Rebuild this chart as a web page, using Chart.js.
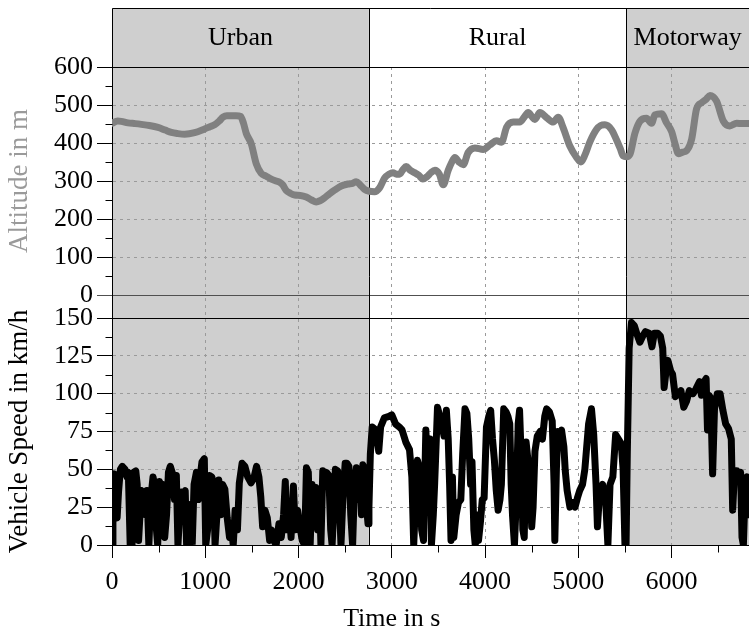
<!DOCTYPE html>
<html>
<head>
<meta charset="utf-8">
<script src="https://cdn.jsdelivr.net/npm/chart.js@4.4.1/dist/chart.umd.min.js"></script>
<style>
  html, body { margin: 0; padding: 0; background: #ffffff; }
  #wrap { width: 749px; height: 630px; }
</style>
</head>
<body>
<div id="wrap"><canvas id="drive" width="749" height="630"></canvas></div>
<script>
// Driving cycle: route sections along the time axis
const sectionNames  = ['Urban', 'Rural', 'Motorway'];
const sectionBounds = [0, 2755, 5515, 6830];   // s

// Tick labels
const timeTicks  = [0, 1000, 2000, 3000, 4000, 5000, 6000];
const altTicks   = [0, 100, 200, 300, 400, 500, 600];
const speedTicks = [0, 25, 50, 75, 100, 125, 150];
const timeMax = 6830;

// Altitude profile
const altTime = [
  0, 60, 100, 171, 250, 315, 400, 493, 570, 636,
  700, 779, 886, 993, 1050, 1100, 1150, 1190, 1230, 1279,
  1330, 1379, 1410, 1440, 1493, 1547, 1600, 1650, 1708, 1760,
  1797, 1830, 1868, 1910, 1958, 2020, 2083, 2140, 2190, 2230,
  2280, 2330, 2386, 2458, 2530, 2580, 2619, 2660, 2708, 2760,
  2815, 2869, 2923, 2970, 3012, 3050, 3083, 3120, 3154, 3200,
  3243, 3290, 3333, 3380, 3420, 3462, 3510, 3551, 3605, 3640,
  3676, 3720, 3766, 3819, 3891, 3980, 4052, 4123, 4177, 4231,
  4302, 4373, 4420, 4463, 4500, 4534, 4588, 4659, 4731, 4784,
  4838, 4909, 4981, 5027, 5070, 5124, 5196, 5240, 5285, 5356,
  5410, 5450, 5481, 5515, 5553, 5606, 5660, 5731, 5785, 5821,
  5892, 5946, 6000, 6040, 6072, 6120, 6161, 6215, 6268, 6322,
  6370, 6411, 6482, 6554, 6625, 6697, 6760, 6830
];
const altMeters = [
  452, 458, 457, 453, 451, 449, 446, 441, 434, 428,
  425, 423, 427, 437, 443, 448, 458, 468, 472, 472,
  472, 470, 452, 425, 398, 345, 320, 313, 305, 300,
  297, 290, 275, 268, 263, 262, 258, 250, 245, 248,
  256, 266, 276, 287, 292, 294, 298, 290, 278, 273,
  272, 282, 308, 318, 322, 318, 318, 330, 338, 328,
  322, 315, 305, 312, 322, 328, 318, 290, 328, 348,
  362, 350, 343, 375, 387, 383, 395, 406, 402, 442,
  455, 455, 468, 480, 470, 462, 480, 467, 455, 468,
  440, 392, 362, 350, 368, 403, 436, 446, 448, 435,
  408, 385, 366, 364, 370, 425, 457, 465, 452, 474,
  477, 453, 430, 395, 372, 376, 380, 410, 490, 506,
  515, 525, 510, 458, 445, 452, 451, 451
];

// Vehicle speed trace: urban, rural and motorway parts
const speedTime = [
  0, 10, 25, 40, 55, 70, 90, 110, 140, 160,
  175, 195, 215, 230, 255, 270, 285, 300, 315, 345,
  360, 375, 395, 415, 440, 455, 470, 490, 510, 525,
  545, 565, 585, 605, 625, 650, 670, 690, 707, 725,
  745, 770, 785, 800, 820, 845, 860, 880, 905, 925,
  945, 965, 990, 1005, 1025, 1045, 1070, 1090, 1105, 1125,
  1145, 1165, 1185, 1210, 1235, 1260, 1280, 1300, 1320, 1345,
  1365, 1395, 1425, 1455, 1490, 1520, 1550, 1575, 1595, 1615,
  1640, 1665, 1690, 1710, 1735, 1760, 1790, 1815, 1840, 1858,
  1875, 1900, 1920, 1945, 1965, 1990, 2010, 2040, 2065, 2085,
  2105, 2125, 2145, 2165, 2185, 2205, 2225, 2240, 2260, 2285,
  2300, 2325, 2345, 2360, 2375, 2395, 2420, 2440, 2455, 2475,
  2500, 2520, 2540, 2560, 2580, 2600, 2620, 2640, 2660, 2675,
  2690, 2710, 2730, 2745, 2755,

  2770, 2790, 2830, 2860, 2880, 2920, 2970, 3000, 3040, 3080,
  3110, 3150, 3190, 3215, 3235, 3255, 3275, 3300, 3320, 3340,
  3365, 3390, 3410, 3425, 3445, 3460, 3490, 3515, 3535, 3560,
  3585, 3605, 3620, 3635, 3650, 3665, 3690, 3715, 3740, 3760,
  3785, 3805, 3825, 3845, 3860, 3880, 3895, 3910, 3930, 3950,
  3970, 3990, 4015, 4040, 4060, 4080, 4100, 4120, 4140, 4160,
  4175, 4200, 4225, 4245, 4265, 4280, 4295, 4315, 4335, 4355,
  4370, 4390, 4405, 4420, 4440, 4460, 4480, 4500, 4515, 4535,
  4560, 4590, 4615, 4640, 4660, 4690, 4720, 4740, 4748, 4765,
  4780, 4800, 4820, 4845, 4860, 4880, 4910, 4940, 4965, 4990,
  5015, 5045, 5070, 5110, 5141, 5165, 5190, 5205, 5230, 5260,
  5290, 5317, 5340, 5370, 5400, 5430, 5460, 5480, 5500, 5512,

  5525, 5545, 5570, 5600, 5630, 5660, 5690, 5720, 5760, 5790,
  5815, 5850, 5880, 5905, 5920, 5935, 5960, 5990, 6010, 6040,
  6070, 6100, 6130, 6160, 6190, 6230, 6260, 6300, 6320, 6350,
  6370, 6385, 6400, 6420, 6440, 6460, 6490, 6520, 6550, 6580,
  6610, 6640, 6655, 6675, 6700, 6720, 6740, 6755, 6770, 6790,
  6810, 6830
];
const speedKmh = [
  0, 45, 47, 20, 18, 35, 50, 52, 50, 45,
  48, 0, 0, 48, 49, 40, 3, 20, 36, 34,
  20, 36, 0, 30, 45, 40, 15, 0, 42, 38,
  40, 5, 20, 48, 52, 47, 30, 46, 0, 20,
  35, 33, 36, 0, 27, 25, 0, 40, 48, 30,
  45, 55, 57, 0, 10, 46, 45, 40, 0, 20,
  43, 20, 40, 37, 18, 5, 12, 0, 23, 10,
  41, 54, 52, 45, 41, 44, 52, 45, 32, 12,
  23, 18, 3, 10, 3, 0, 14, 5, 20, 42,
  10, 23, 5, 39, 10, 23, 14, 3, 0, 51,
  48, 0, 40, 20, 38, 10, 36, 0, 49, 40,
  48, 46, 10, 0, 20, 50, 49, 25, 0, 30,
  54, 54, 52, 20, 0, 40, 51, 30, 48, 20,
  53, 50, 25, 14, 25,

  60, 78, 76, 62, 78, 84, 85, 86, 80, 78,
  76, 68, 63, 45, 0, 30, 56, 50, 10, 3,
  76, 40, 70, 0, 20, 41, 91, 85, 80, 72,
  89, 70, 40, 3, 45, 5, 20, 28, 30, 60,
  90, 87, 70, 40, 55, 10, 0, 20, 3, 15,
  30, 31, 78, 85, 89, 70, 56, 36, 23, 30,
  40, 90, 88, 85, 80, 40, 19, 0, 30, 80,
  89, 54, 10, 5, 68, 56, 45, 12, 25, 62,
  72, 75, 70, 85, 90, 88, 82, 40, 3, 50,
  75, 72, 76, 65, 49, 36, 25, 28, 25, 31,
  36, 40, 50, 80, 90, 73, 40, 12, 36, 40,
  33, 0, 40, 45, 73, 70, 67, 50, 0, 0,

  60, 130, 147, 145, 139, 134, 138, 141, 140, 131,
  140, 140, 138, 130, 104, 112, 122, 115, 113, 98,
  100, 102, 91, 95, 102, 100, 103, 108, 99, 108,
  110, 76, 99, 97, 47, 90, 100, 100, 89, 80,
  77, 70, 23, 49, 49, 45, 48, 5, 0, 39,
  45, 20
];

const FONT = 'Liberation Serif';
const GRID = '#9a9a9a';
const SHADE = '#cfcfcf';
const AXIS_W = 112;

const altPoints = altTime.map((t, i) => ({ x: t, y: altMeters[i] }));
const speedPoints = speedTime.map((t, i) => ({ x: t, y: speedKmh[i] }));

const fixWidth = s => { s.width = AXIS_W; };
const useTicks = list => s => { s.ticks = list.map(v => ({ value: v })); };
const tickVal = c => (c.tick ? c.tick.value : null);
const first = a => a[0];
const last = a => a[a.length - 1];

// Midpoints between labelled ticks (plus one past the last) for minor marks
function minorValues(list, max) {
  const out = [];
  const step = list[1] - list[0];
  for (let i = 0; i < list.length; i++) {
    const v = list[i] + step / 2;
    if (v < max) out.push(v);
  }
  return out;
}

// Shaded route sections, the header strip with section names, dividers,
// minor ticks and the time axis caption.
const sectionsPlugin = {
  id: 'sections',
  beforeDraw(chart) {
    const { ctx, chartArea: a, scales: { x } } = chart;
    const headTop = 8;
    ctx.save();
    sectionNames.forEach((name, i) => {
      const x0 = x.getPixelForValue(sectionBounds[i]);
      const x1 = Math.min(x.getPixelForValue(sectionBounds[i + 1]), a.right);
      ctx.fillStyle = (i % 2 === 0) ? SHADE : '#ffffff';
      ctx.fillRect(x0, headTop, x1 - x0, a.bottom - headTop);
    });
    ctx.restore();
  },
  beforeDatasetsDraw(chart) {
    const { ctx, chartArea: a, scales: { x } } = chart;
    const headTop = 8.5;
    ctx.save();
    ctx.strokeStyle = '#000';
    ctx.lineWidth = 1;
    ctx.beginPath();
    const left = Math.round(a.left) + 0.5;
    ctx.moveTo(left, headTop);
    ctx.lineTo(a.right, headTop);
    ctx.moveTo(left, headTop);
    ctx.lineTo(left, a.top);
    for (let i = 1; i < sectionBounds.length - 1; i++) {
      const px = Math.round(x.getPixelForValue(sectionBounds[i])) + 0.5;
      ctx.moveTo(px, headTop);
      ctx.lineTo(px, a.bottom);
    }
    ctx.stroke();
    ctx.fillStyle = '#000';
    ctx.font = '26px "' + FONT + '"';
    ctx.textAlign = 'center';
    ctx.textBaseline = 'alphabetic';
    sectionNames.forEach((name, i) => {
      const x0 = x.getPixelForValue(sectionBounds[i]);
      const x1 = Math.min(x.getPixelForValue(sectionBounds[i + 1]), a.right);
      ctx.fillText(name, (x0 + x1) / 2, 45);
    });
    ctx.restore();
  },
  afterDraw(chart) {
    const { ctx, chartArea: a, scales } = chart;
    const { x, yAlt, ySpeed } = scales;
    ctx.save();
    ctx.strokeStyle = '#000';
    ctx.lineWidth = 1;
    ctx.beginPath();
    const minorLen = 7;
    const yEdge = Math.round(a.left) + 0.5;
    minorValues(altTicks, last(altTicks)).forEach(v => {
      const py = Math.round(yAlt.getPixelForValue(v)) + 0.5;
      ctx.moveTo(yEdge - minorLen, py);
      ctx.lineTo(yEdge, py);
    });
    minorValues(speedTicks, last(speedTicks)).forEach(v => {
      const py = Math.round(ySpeed.getPixelForValue(v)) + 0.5;
      ctx.moveTo(yEdge - minorLen, py);
      ctx.lineTo(yEdge, py);
    });
    const xEdge = Math.round(a.bottom) + 0.5;
    minorValues(timeTicks, timeMax).forEach(v => {
      const px = Math.round(x.getPixelForValue(v)) + 0.5;
      ctx.moveTo(px, xEdge);
      ctx.lineTo(px, xEdge + minorLen);
    });
    ctx.stroke();
    // time axis caption, centred under the labelled ticks
    ctx.fillStyle = '#000';
    ctx.font = '26px "' + FONT + '"';
    ctx.textAlign = 'center';
    ctx.textBaseline = 'alphabetic';
    const cx = (x.getPixelForValue(first(timeTicks)) + x.getPixelForValue(last(timeTicks))) / 2;
    ctx.fillText('Time in s', cx, 626);
    ctx.restore();
  }
};

Chart.defaults.font.family = FONT;
Chart.defaults.font.size = 26;
Chart.defaults.color = '#000';

const plainLabel = v => String(v);

new Chart(document.getElementById('drive'), {
  type: 'line',
  data: {
    datasets: [
      {
        label: 'Altitude',
        data: altPoints,
        yAxisID: 'yAlt',
        borderColor: '#808080',
        borderWidth: 7,
        pointRadius: 0,
        cubicInterpolationMode: 'monotone',
        borderJoinStyle: 'round',
        borderCapStyle: 'round',
        clip: 0
      },
      {
        label: 'Vehicle Speed',
        data: speedPoints,
        yAxisID: 'ySpeed',
        borderColor: '#000000',
        borderWidth: 7,
        pointRadius: 0,
        tension: 0,
        borderJoinStyle: 'round',
        borderCapStyle: 'round',
        clip: 0
      }
    ]
  },
  options: {
    responsive: false,
    animation: false,
    devicePixelRatio: 1,
    layout: { padding: { top: 67, right: 0, bottom: 0, left: 0 } },
    plugins: { legend: { display: false }, tooltip: { enabled: false } },
    scales: {
      x: {
        type: 'linear',
        position: 'bottom',
        min: 0,
        max: timeMax,
        afterFit: s => { s.height = 85; },
        afterBuildTicks: useTicks(timeTicks),
        ticks: { autoSkip: false, padding: 9, maxRotation: 0, color: '#000', callback: plainLabel },
        grid: {
          color: c => (tickVal(c) === 0 ? 'rgba(0,0,0,0)' : GRID),
          tickColor: '#000',
          tickLength: 13,
          lineWidth: 1
        },
        border: { display: true, color: '#000', width: 1, dash: [3, 4] }
      },
      ySpeed: {
        type: 'linear',
        position: 'left',
        stack: 'panels',
        stackWeight: 227,
        weight: 1,
        min: first(speedTicks),
        max: last(speedTicks),
        afterFit: fixWidth,
        afterBuildTicks: useTicks(speedTicks),
        ticks: { autoSkip: false, padding: 4, color: '#000', callback: plainLabel },
        grid: {
          color: c => { const v = tickVal(c); return (v === 0 || v === last(speedTicks)) ? '#000' : GRID; },
          tickColor: '#000',
          tickLength: 15
        },
        border: {
          display: true, color: '#000', width: 1,
          dash: c => { const v = tickVal(c); return (v !== null && v > 0 && v < last(speedTicks)) ? [3, 4] : []; }
        },
        title: { display: true, text: 'Vehicle Speed in km/h', color: '#000', font: { size: 27 }, padding: { top: 4, bottom: 0 } }
      },
      yGap: {
        type: 'linear',
        position: 'left',
        stack: 'panels',
        stackWeight: 23,
        weight: 2,
        min: 0,
        max: 1,
        afterFit: fixWidth,
        ticks: { display: false },
        grid: { display: false },
        border: { display: true, color: '#000', width: 1 }
      },
      yAlt: {
        type: 'linear',
        position: 'left',
        stack: 'panels',
        stackWeight: 228,
        weight: 3,
        min: first(altTicks),
        max: last(altTicks),
        afterFit: fixWidth,
        afterBuildTicks: useTicks(altTicks),
        ticks: { autoSkip: false, padding: 4, color: '#000', callback: plainLabel },
        grid: {
          color: c => { const v = tickVal(c); return v === last(altTicks) ? '#000' : (v === 0 ? '#505050' : GRID); },
          tickColor: c => (tickVal(c) === 0 ? '#505050' : '#000'),
          tickLength: 15
        },
        border: {
          display: true, color: '#000', width: 1,
          dash: c => { const v = tickVal(c); return (v !== null && v > 0 && v < last(altTicks)) ? [3, 4] : []; }
        },
        title: { display: true, text: 'Altitude in m', color: '#9a9a9a', font: { size: 27 }, padding: { top: 4, bottom: 0 } }
      }
    }
  },
  plugins: [sectionsPlugin]
});
</script>
</body>
</html>
